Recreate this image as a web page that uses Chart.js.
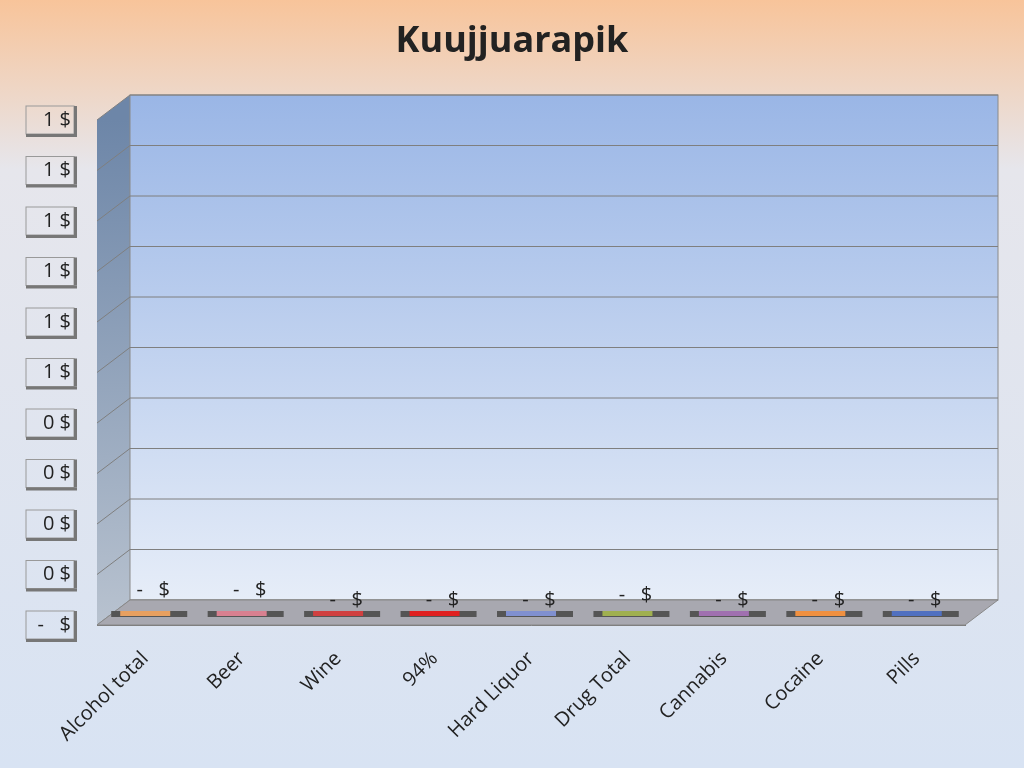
<!DOCTYPE html>
<html><head><meta charset="utf-8">
<script src="https://cdn.jsdelivr.net/npm/chart.js@4/dist/chart.umd.min.js"></script>
<style>html,body{margin:0;padding:0;}#w{width:1024px;height:768px;background:linear-gradient(#f8c49a 0%,#e6e6ec 22%,#d8e3f3 100%);}</style>
</head><body><div id="w"><canvas id="c" width="1024" height="768"></canvas></div>
<script>
const categories=["Alcohol total","Beer","Wine","94%","Hard Liquor","Drug Total","Cannabis","Cocaine","Pills"];
const values=[0,0,0,0,0,0,0,0,0];
const barColors=["#e8a060","#d88090","#d04040","#e02020","#8090d0","#a0b050","#a070b0","#f09040","#5070c0"];
const labelOffsets=[35,35,25,25,25,30,25,25,25];
const DX=33,DY=25;
const deco={id:'deco',
beforeDatasetsDraw(ch){
 const {ctx,chartArea:a,scales:{y}}=ch;
 ctx.save();
 ctx.beginPath();ctx.moveTo(a.left,a.top);ctx.lineTo(a.left+DX,a.top-DY);ctx.lineTo(a.left+DX,a.bottom-DY);ctx.lineTo(a.left,a.bottom);ctx.closePath();
 let g=ctx.createLinearGradient(0,a.top,0,a.bottom);g.addColorStop(0,'#6d86a8');g.addColorStop(1,'#b8c2cf');ctx.fillStyle=g;ctx.fill();
 g=ctx.createLinearGradient(0,a.top-DY,0,a.bottom-DY);g.addColorStop(0,'#9ab6e6');g.addColorStop(1,'#e6edf8');
 ctx.fillStyle=g;ctx.fillRect(a.left+DX,a.top-DY,a.right-a.left,a.bottom-a.top);
 ctx.strokeStyle='#8a8a8a';ctx.lineWidth=1;ctx.strokeRect(a.left+DX,a.top-DY,a.right-a.left,a.bottom-a.top);
 ctx.strokeStyle='#7f7f7f';
 y.ticks.forEach(t=>{const py=y.getPixelForValue(t.value);ctx.beginPath();ctx.moveTo(a.left,py);ctx.lineTo(a.left+DX,py-DY);ctx.lineTo(a.right+DX,py-DY);ctx.stroke();});
 ctx.beginPath();ctx.moveTo(a.left,a.bottom);ctx.lineTo(a.left+DX,a.bottom-DY);ctx.lineTo(a.right+DX,a.bottom-DY);ctx.lineTo(a.right,a.bottom);ctx.closePath();
 ctx.fillStyle='#a8a8b0';ctx.fill();ctx.strokeStyle='#888';ctx.stroke();
 const meta=ch.getDatasetMeta(0);
 meta.data.forEach((b,i)=>{const x=b.x;ctx.fillStyle='#555';ctx.fillRect(x-34,a.bottom-14,76,6);ctx.fillStyle=barColors[i];ctx.fillRect(x-25,a.bottom-14,50,5);});
 ctx.restore();
},
afterDraw(ch){
 const {ctx,chartArea:a,scales:{y}}=ch;ctx.save();
 ctx.fillStyle='#222';ctx.font='bold 36px "Open Sans", sans-serif';ctx.textAlign='center';ctx.textBaseline='middle';
 ctx.fillText('Kuujjuarapik',512,42);
 ctx.font='20px "Open Sans", sans-serif';
 ch.getDatasetMeta(0).data.forEach((b,i)=>{ctx.fillText('-   $',b.x+8,a.bottom-labelOffsets[i]);});
 y.ticks.forEach(t=>{const py=y.getPixelForValue(t.value);ctx.strokeStyle='#999';ctx.lineWidth=1;ctx.strokeRect(26,py-14,48,28);ctx.fillStyle='#777';ctx.fillRect(74,py-14,3,28);ctx.fillRect(26,py+14,51,3);});
 ctx.restore();
}};
new Chart(document.getElementById('c'),{type:'bar',
data:{labels:categories,datasets:[{data:values,backgroundColor:barColors}]},
options:{responsive:false,animation:false,devicePixelRatio:1,
layout:{padding:{left:0,top:120,right:59,bottom:0}},
plugins:{legend:{display:false},tooltip:{enabled:false}},
scales:{
 y:{min:0,max:1,ticks:{stepSize:0.1,color:'#222',font:{size:20,family:'"Open Sans", sans-serif'},padding:18,
   callback:v=>v===0?'-   $':Math.round(v)+' $'},
   grid:{display:false},border:{color:'#777'},afterFit:s=>{s.width=97;}},
 x:{grid:{display:false},border:{color:'#777'},ticks:{color:'#222',padding:14,maxRotation:45,minRotation:45,font:{size:20,family:'"Open Sans", sans-serif'}},afterFit:s=>{s.height=143;}}
}},plugins:[deco]});
</script></body></html>
